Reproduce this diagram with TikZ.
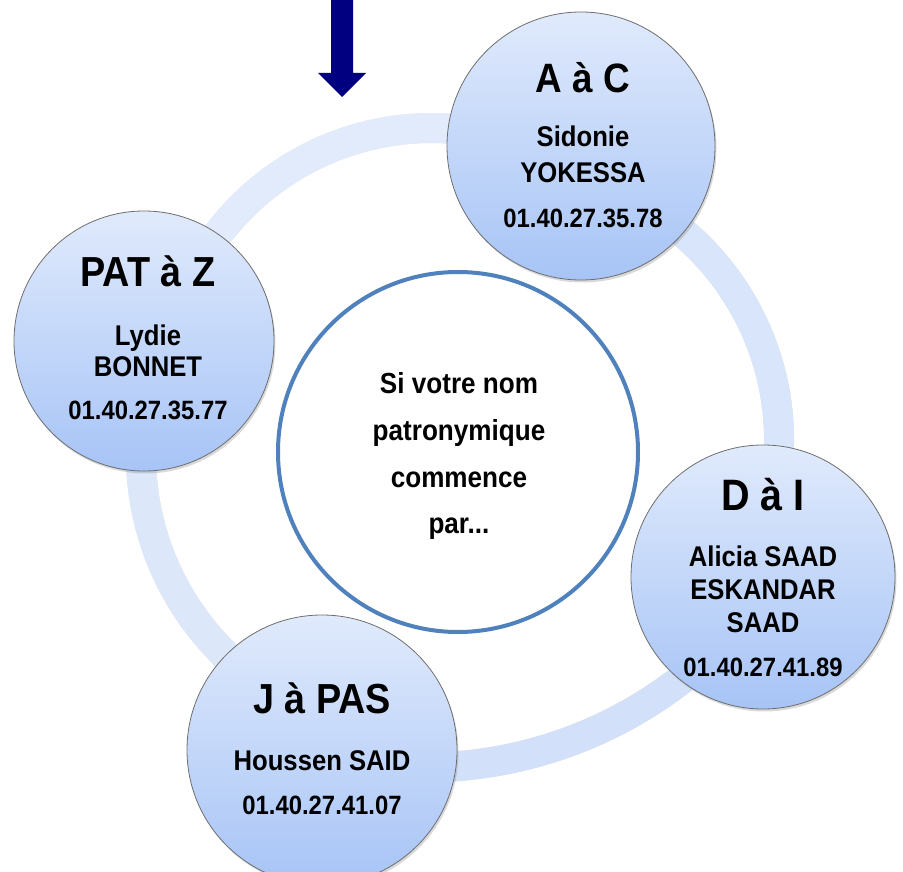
\documentclass[tikz,border=0pt]{standalone}
\usepackage{fontspec}
\setmainfont{Liberation Sans}[FakeStretch=0.9]
\usetikzlibrary{shadows}
\definecolor{navyarrow}{HTML}{000080}
\definecolor{ringTop}{HTML}{E2EBFC}
\definecolor{ringLeft}{HTML}{DCE7FA}
\definecolor{ringRight}{HTML}{D9E5FA}
\definecolor{ringBot}{HTML}{D3E0F9}
\definecolor{ctrblue}{HTML}{4F81BD}
\definecolor{satTop}{HTML}{E0EAFC}
\definecolor{satBot}{HTML}{A7C4F6}
\definecolor{satLine}{HTML}{6E6E6E}
\tikzset{
  sat/.style={circle, draw=satLine, line width=0.8pt, top color=satTop, bottom color=satBot,
    inner sep=0pt, drop shadow={shadow xshift=1.5pt, shadow yshift=-2.5pt, opacity=0.3}},
  ttl/.style={anchor=base, inner sep=0pt, font=\bfseries\fontsize{#1}{#1}\selectfont},
  nm/.style={anchor=base, inner sep=0pt, font=\bfseries\fontsize{28.5}{28.5}\selectfont},
  ph/.style={anchor=base, inner sep=0pt, font=\bfseries\fontsize{26.5}{26.5}\selectfont},
  ctr/.style={anchor=base, inner sep=0pt, font=\bfseries\fontsize{29}{29}\selectfont},
  ringarc/.style={line width=30pt},
  ringshadow/.style={line width=30pt, black, opacity=0.13}
}
\begin{document}
\begin{tikzpicture}[x=1pt, y=-1pt]
\useasboundingbox (0,0) rectangle (903,872);
\clip (0,0) rectangle (903,872);
% ring arc centres
\coordinate (cT) at (432,397);
\coordinate (cR) at (507,440);
\coordinate (cB) at (424,347.5);
\coordinate (cL) at (420,455);
% ring shadows
\begin{scope}[shift={(1,3)}]
\draw[ringshadow] ([shift={(-165:269)}]cT) arc[start angle=-165, end angle=-65, radius=269];
\draw[ringshadow] ([shift={(-65:272)}]cR) arc[start angle=-65, end angle=20, radius=272];
\draw[ringshadow] ([shift={(45:420)}]cB) arc[start angle=45, end angle=95, radius=420];
\draw[ringshadow] ([shift={(120:279)}]cL) arc[start angle=120, end angle=195, radius=279];
\end{scope}
% ring arcs
\draw[ringarc, ringTop] ([shift={(-165:269)}]cT) arc[start angle=-165, end angle=-65, radius=269];
\draw[ringarc, ringRight] ([shift={(-65:272)}]cR) arc[start angle=-65, end angle=20, radius=272];
\draw[ringarc, ringBot] ([shift={(45:420)}]cB) arc[start angle=45, end angle=95, radius=420];
\draw[ringarc, ringLeft] ([shift={(120:279)}]cL) arc[start angle=120, end angle=195, radius=279];
% central circle
\node[circle, draw=ctrblue, line width=4pt, fill=white, minimum size=360pt, inner sep=0pt] (ctr) at (458,452) {};
% satellites
\node[sat, minimum size=268pt] (sA) at (581,146) {};
\node[sat, minimum size=260pt] (sP) at (144,341) {};
\node[sat, minimum size=264pt] (sD) at (763,577) {};
\node[sat, minimum size=270pt] (sJ) at (322,750) {};
% arrow
\fill[navyarrow] (331,0) -- (353,0) -- (353,73) -- (366,73) -- (342,97) -- (318,73) -- (331,73) -- cycle;
% central text
\node[ctr] (c1) at (459,393.4) {Si votre nom};
\node[ctr] (c2) at (459,440.4) {patronymique};
\node[ctr] (c3) at (459,487.4) {commence};
\node[ctr] (c4) at (459,533.4) {par...};
% A a C
\node[ttl=41] (a1) at (583,92.2) {A à C};
\node[nm] (a2) at (583,146.2) {Sidonie};
\node[nm] (a3) at (583,182.7) {YOKESSA};
\node[ph] (a4) at (583,227) {01.40.27.35.78};
% PAT a Z
\node[ttl=42] (p1) at (148,286) {PAT à Z};
\node[nm] (p2) at (148,345.2) {Lydie};
\node[nm] (p3) at (148,376.2) {BONNET};
\node[ph] (p4) at (148,419.5) {01.40.27.35.77};
% D a I
\node[ttl=44] (d1) at (763,510.8) {D à I};
\node[nm] (d2) at (763,566.2) {Alicia SAAD};
\node[nm] (d3) at (763,599.2) {ESKANDAR};
\node[nm] (d4) at (763,632.7) {SAAD};
\node[ph] (d5) at (763,676.2) {01.40.27.41.89};
% J a PAS
\node[ttl=42] (j1) at (322,713) {J à PAS};
\node[nm] (j2) at (322,770.2) {Houssen SAID};
\node[ph] (j3) at (322,814.5) {01.40.27.41.07};
\end{tikzpicture}
\end{document}
